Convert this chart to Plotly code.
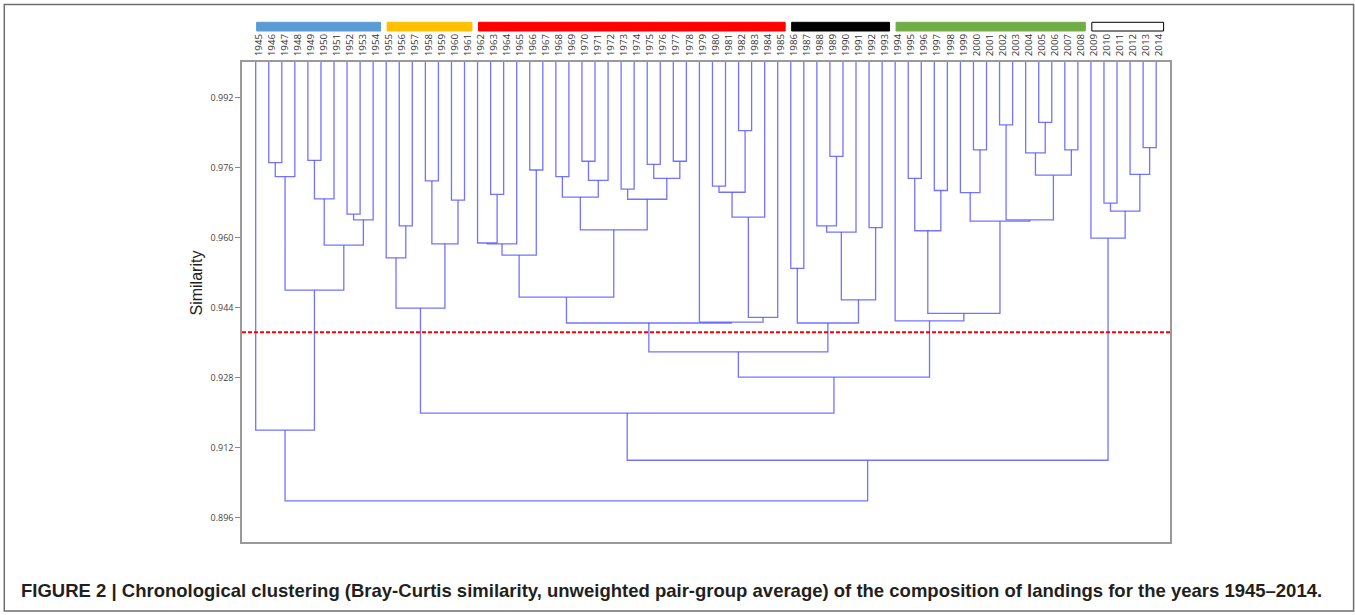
import plotly.graph_objects as go

# ---------------- data ----------------
years = [1945, 1946, 1947, 1948, 1949, 1950, 1951, 1952, 1953, 1954,
         1955, 1956, 1957, 1958, 1959, 1960, 1961, 1962, 1963, 1964,
         1965, 1966, 1967, 1968, 1969, 1970, 1971, 1972, 1973, 1974,
         1975, 1976, 1977, 1978, 1979, 1980, 1981, 1982, 1983, 1984,
         1985, 1986, 1987, 1988, 1989, 1990, 1991, 1992, 1993, 1994,
         1995, 1996, 1997, 1998, 1999, 2000, 2001, 2002, 2003, 2004,
         2005, 2006, 2007, 2008, 2009, 2010, 2011, 2012, 2013, 2014]

# merges of the dendrogram: node name, left child, right child, similarity
node_name = ["A1", "A2", "A3", "A4", "A5", "A6", "A7", "A8", "A9",
             "B1", "B2", "B3", "B4", "B5", "B6",
             "C1", "C2", "C3", "C4", "C5", "C6", "C7", "C8", "C9", "C10",
             "C11", "C12", "C13", "C14", "C15", "C16", "C17", "C18", "C19",
             "C20", "C21", "C22", "C23",
             "D1", "D2", "D3", "D4", "D5", "D6", "D7",
             "E1", "E2", "E3", "E4", "E5", "E6", "E7", "E8", "E9", "E10",
             "E11", "E12", "E13", "E14",
             "F1", "F2", "F3", "F4", "F5",
             "G1", "G2", "G3", "G4", "G5"]
node_left = ["1946", "A1", "1949", "A3", "1952", "A5", "A4", "A2", "1945",
             "1956", "1955", "1958", "1960", "B3", "B2",
             "1963", "1962", "C2", "1966", "C3", "1968", "1970", "C7", "C6", "1973",
             "1975", "1977", "C11", "C10", "C9", "C5", "1980", "1982", "C17",
             "C19", "C20", "1979", "C16",
             "1986", "1989", "1988", "D3", "1992", "D4", "D1",
             "1995", "1997", "E1", "2000", "1999", "2002", "2005", "2004", "2007", "E8",
             "E6", "E5", "E3", "1994",
             "2013", "2012", "2010", "F3", "2009",
             "C23", "G1", "B6", "G3", "A9"]
node_right = ["1947", "1948", "1950", "1951", "1953", "1954", "A6", "A7", "A8",
              "1957", "B1", "1959", "1961", "B4", "B5",
              "1964", "C1", "1965", "1967", "C4", "1969", "1971", "1972", "C8", "1974",
              "1976", "1978", "C12", "C13", "C14", "C15", "1981", "1983", "C18",
              "1984", "1985", "C21", "C22",
              "1987", "1990", "D2", "1991", "1993", "D5", "D6",
              "1996", "1998", "E2", "2001", "E4", "2003", "2006", "E7", "2008", "E9",
              "E10", "E11", "E12", "E13",
              "2014", "F1", "2011", "F2", "F4",
              "D7", "E14", "G2", "F5", "G4"]
node_sim = [0.9772, 0.9740, 0.9777, 0.9689, 0.9654, 0.9641, 0.9583, 0.9480, 0.9160,
            0.9627, 0.9554, 0.9730, 0.9686, 0.9586, 0.9439,
            0.9699, 0.9588, 0.9586, 0.9755, 0.9560, 0.9740, 0.9775, 0.9731, 0.9693, 0.9711,
            0.9768, 0.9775, 0.9736, 0.9688, 0.9618, 0.9464, 0.9718, 0.9845, 0.9704,
            0.9647, 0.9418, 0.9407, 0.9405,
            0.9530, 0.9786, 0.9627, 0.9613, 0.9623, 0.9458, 0.9405,
            0.9736, 0.9708, 0.9616, 0.9801, 0.9703, 0.9858, 0.9864, 0.9794, 0.9801, 0.9743,
            0.9641, 0.9638, 0.9427, 0.9410,
            0.9806, 0.9745, 0.9679, 0.9661, 0.9599,
            0.9339, 0.9281, 0.9199, 0.9091, 0.8998]

cut_similarity = 0.9384

group_first = [1945, 1955, 1962, 1986, 1994, 2009]
group_last = [1954, 1961, 1985, 1993, 2008, 2014]
group_fill = ["#5b9bd5", "#ffc000", "#ff0000", "#000000", "#70ad47", "#ffffff"]
group_edge = ["#5b9bd5", "#ffc000", "#ff0000", "#000000", "#70ad47", "#000000"]

y_ticks = [0.896, 0.912, 0.928, 0.944, 0.960, 0.976, 0.992]
y_range = [0.8904, 1.0002]
x_range = [-1.05, 70.06]

caption = ("FIGURE 2 | Chronological clustering (Bray-Curtis similarity, unweighted "
           "pair-group average) of the composition of landings for the years 1945\u20132014.")

# ---------------- build dendrogram segments ----------------
labels = [str(y) for y in years]
pos = {lab: i for i, lab in enumerate(labels)}
top = {lab: y_range[1] for lab in labels}
xs, ys = [], []
for n, l, r, s in zip(node_name, node_left, node_right, node_sim):
    xl, xr = pos[l], pos[r]
    xs += [xl, xl, xr, xr, None]
    ys += [top[l], s, s, top[r], None]
    pos[n] = (xl + xr) / 2.0
    top[n] = s

fig = go.Figure()
fig.add_trace(go.Scatter(
    x=xs, y=ys, mode="lines",
    line=dict(color="rgba(80,80,255,0.8)", width=1.3),
    hoverinfo="skip", showlegend=False))

W, H = 1355, 615
L, R, T, B = 242, 185, 62, 73
pw, ph = W - L - R, H - T - B

def px_x(p):
    return (p - L) / pw

def px_y(p):
    return (H - B - p) / ph

shapes = []
# threshold line
shapes.append(dict(type="line", xref="paper", yref="y", x0=0, x1=1,
                   y0=cut_similarity, y1=cut_similarity,
                   line=dict(color="#ff0000", width=2, dash="4px,2px")))
# group bars above the labels
for f, l, fc, ec in zip(group_first, group_last, group_fill, group_edge):
    shapes.append(dict(type="rect", xref="x", yref="paper",
                       x0=labels.index(str(f)) + 0.07, x1=labels.index(str(l)) + 0.57,
                       y0=px_y(31), y1=px_y(22.3),
                       fillcolor=fc, line=dict(color=ec, width=1), layer="above"))
# outer frame
shapes.append(dict(type="rect", xref="paper", yref="paper",
                   x0=px_x(4.3), x1=px_x(1353.6), y0=px_y(611), y1=px_y(4.5),
                   line=dict(color="#6e6e6e", width=1.5), fillcolor="rgba(0,0,0,0)"))

annotations = [
    dict(text="Similarity", xref="paper", yref="paper", x=px_x(196), y=px_y(283.5),
         textangle=-90, showarrow=False, xanchor="center", yanchor="middle",
         font=dict(family="Liberation Sans, Arial, sans-serif", size=16, color="#222222")),
    dict(text="<b>" + caption + "</b>", xref="paper", yref="paper",
         x=px_x(19), y=px_y(590.5), showarrow=False, xanchor="left", yanchor="middle",
         font=dict(family="Liberation Sans, Arial, sans-serif", size=18.5, color="#231f20")),
]

fig.update_layout(
    width=W, height=H,
    margin=dict(l=L, r=R, t=T, b=B, pad=0),
    paper_bgcolor="white", plot_bgcolor="white",
    shapes=shapes, annotations=annotations,
    showlegend=False,
    xaxis=dict(range=x_range, side="top", tickmode="array",
               tickvals=list(range(len(labels))), ticktext=labels,
               tickangle=-90, ticks="", showgrid=False, zeroline=False,
               showline=True, mirror=True, linecolor="#9a9a9a", linewidth=1.5,
               ticklabelshift=3, ticklabelstandoff=2,
               tickfont=dict(family="Open Sans, sans-serif", size=9.8, color="#333333")),
    yaxis=dict(range=y_range, tickmode="array", tickvals=y_ticks,
               ticktext=["%.3f" % v for v in y_ticks],
               ticks="outside", ticklen=5, tickcolor="#8a8a8a", tickwidth=1,
               showgrid=False, zeroline=False,
               showline=True, mirror=True, linecolor="#9a9a9a", linewidth=1.5,
               tickfont=dict(family="Open Sans, sans-serif", size=9, color="#444444")),
)

fig.write_html("out.html", config={"displayModeBar": False},
               post_script="document.body.style.margin='0px';document.body.style.overflow='hidden';")
